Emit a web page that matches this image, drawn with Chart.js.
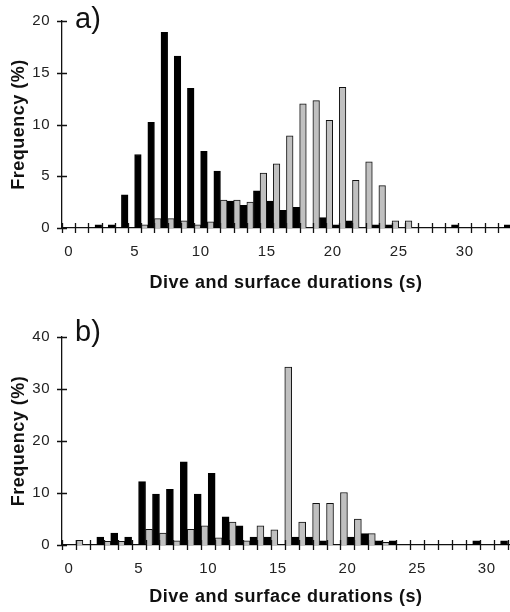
<!DOCTYPE html>
<html>
<head>
<meta charset="utf-8">
<script src="https://cdn.jsdelivr.net/npm/chart.js@4"></script>
<style>
  html, body { margin: 0; padding: 0; background: #fff; overflow: hidden; }
  .panel { position: relative; width: 510px; height: 306px; }
  .tag { position: absolute; left: 75px; font: 29px "Liberation Sans", Arial, sans-serif; line-height: 1; color: #111; }
</style>
</head>
<body>
<div class="panel"><canvas id="chartA" width="510" height="306"></canvas><div class="tag" style="top:4px">a)</div></div>
<div class="panel"><canvas id="chartB" width="510" height="306"></canvas><div class="tag" style="top:11px">b)</div></div>
<script>
// duration bins (s)
const binsA = [0,1,2,3,4,5,6,7,8,9,10,11,12,13,14,15,16,17,18,19,20,21,22,23,24,25,26,27,28,29,30,31,32,33];
const greyA = [0,0,0,0,0,0,0.3,0.9,0.9,0.7,0.3,0.6,2.7,2.7,2.5,5.3,6.2,8.9,12.0,12.3,10.4,13.6,4.6,6.4,4.1,0.7,0.7,0,0,0,0,0,0,0];
const blackA = [0,0,0.3,0.3,3.2,7.1,10.2,18.9,16.6,13.5,7.4,5.5,2.6,2.2,3.6,2.6,1.7,2.0,0,1.0,0.3,0.7,0,0.3,0.3,0,0,0,0,0.3,0,0,0,0.3];

const binsB = [0,1,2,3,4,5,6,7,8,9,10,11,12,13,14,15,16,17,18,19,20,21,22,23,24,25,26,27,28,29,30,31];
const greyB = [0,0.9,0,0.7,0.7,0,3.0,2.3,0.8,3.0,3.7,1.4,4.4,0.8,3.7,2.9,34.2,4.4,8.0,8.0,10.1,5.0,2.2,0.5,0,0,0,0,0,0,0,0];
const blackB = [0,0,1.5,2.3,1.5,12.2,9.8,10.7,16.0,9.8,13.8,5.4,3.7,1.5,1.5,0,1.5,1.5,0.8,0,1.5,2.2,0.8,0.8,0,0,0,0,0,0.8,0,0.8];

const xTickLabels = [0, 5, 10, 15, 20, 25, 30];
const yTicksA = [0, 5, 10, 15, 20];
const yTicksB = [0, 10, 20, 30, 40];

const FONT = '"Liberation Sans", Arial, Helvetica, sans-serif';

// the original lettering is a little wider than Arial
const wideText = {
  id: "wideText",
  beforeDraw(chart) { chart.ctx.letterSpacing = "0.5px"; },
};

// tick marks that cross the axis lines, like the original figure
const crossTicks = {
  id: "crossTicks",
  afterDraw(chart) {
    const { ctx } = chart;
    const xs = chart.scales.x, ys = chart.scales.y;
    const y0 = ys.getPixelForValue(0), x0 = chart.chartArea.left;
    ctx.save();
    ctx.strokeStyle = "#111";
    ctx.lineWidth = 1.3;
    ctx.beginPath();
    for (let v = xs.min; v <= xs.max; v += 1) {
      const px = Math.round(xs.getPixelForValue(v)) + 0.5;
      ctx.moveTo(px, y0 - 5);
      ctx.lineTo(px, y0 + 5);
    }
    ys.ticks.forEach((t) => {
      const py = Math.round(ys.getPixelForValue(t.value)) + 0.5;
      ctx.moveTo(x0 - 5, py);
      ctx.lineTo(x0 + 5, py);
    });
    ctx.stroke();
    ctx.restore();
  },
};

function makeChart(id, bins, grey, black, cfg) {
  return new Chart(document.getElementById(id), {
    type: "bar",
    data: {
      datasets: [
        {
          data: bins.map((b, i) => ({ x: b, y: grey[i] })),
          backgroundColor: "#c0c0c0",
          borderColor: "#111",
          borderWidth: 1,
        },
        {
          data: bins.map((b, i) => ({ x: b, y: black[i] })),
          backgroundColor: "#000",
          borderColor: "#000",
          borderWidth: 1,
        },
      ],
    },
    options: {
      responsive: false,
      animation: false,
      events: [],
      categoryPercentage: 1,
      barPercentage: 1,
      layout: { padding: { top: cfg.top, left: 0, right: 0, bottom: 0 } },
      plugins: { legend: { display: false }, tooltip: { enabled: false } },
      scales: {
        x: {
          type: "linear",
          offset: false,
          min: -0.5,
          max: cfg.xMax,
          afterBuildTicks: (s) => { s.ticks = xTickLabels.map((v) => ({ value: v })); },
          afterFit: (s) => { s.height = cfg.xHeight; },
          grid: { display: false, drawTicks: false },
          border: { display: true, color: "#111", width: 1.3 },
          ticks: { padding: 15, color: "#222", font: { family: FONT, size: 15 } },
          title: {
            display: true,
            text: "Dive and surface durations (s)",
            color: "#111",
            font: { family: FONT, size: 18, weight: "bold" },
            padding: { top: 0, bottom: cfg.titlePad },
          },
        },
        y: {
          min: 0,
          max: cfg.yMax,
          afterBuildTicks: (s) => { s.ticks = cfg.yTicks.map((v) => ({ value: v })); },
          afterFit: (s) => { s.width = 62; },
          grid: { display: false, drawTicks: false },
          border: { display: true, color: "#111", width: 1.3 },
          ticks: { padding: 12, color: "#222", font: { family: FONT, size: 15 } },
          title: {
            display: true,
            text: "Frequency (%)",
            color: "#111",
            font: { family: FONT, size: 18, weight: "bold" },
            padding: { top: 8, bottom: 0 },
          },
        },
      },
    },
    plugins: [wideText, crossTicks],
  });
}

makeChart("chartA", binsA, greyA, blackA, { top: 19, xHeight: 78, xMax: 33.43, yMax: 20, yTicks: yTicksA, titlePad: 12 });
makeChart("chartB", binsB, greyB, blackB, { top: 31, xHeight: 67, xMax: 31.66, yMax: 40, yTicks: yTicksB, titlePad: 4 });
</script>
</body>
</html>
